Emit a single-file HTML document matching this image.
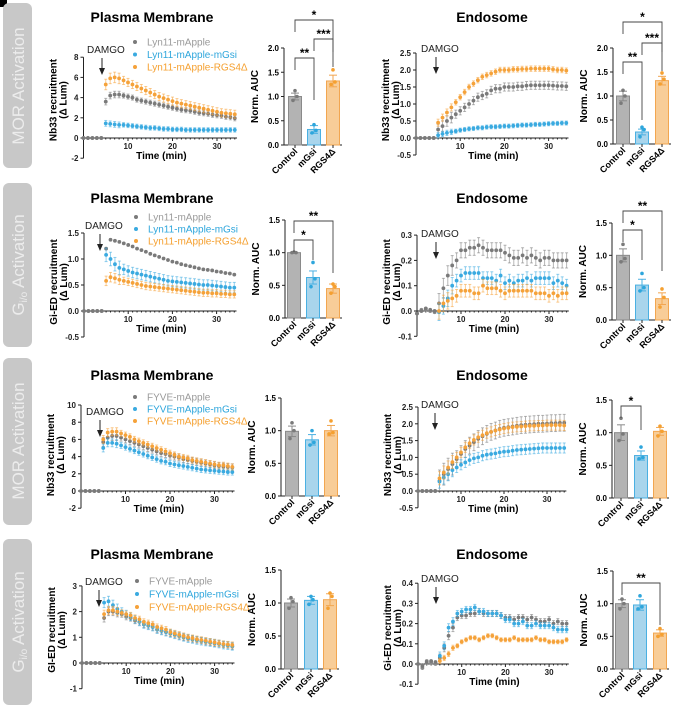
<!DOCTYPE html>
<html><head><meta charset="utf-8"><style>
html,body{margin:0;padding:0;background:#fff;}
svg{display:block;font-family:"Liberation Sans",Arial,sans-serif;}
</style></head><body>
<svg id="fig" width="677" height="706" viewBox="0 0 677 706">
<rect x="0" y="0" width="7" height="7" fill="#000"/>
<g><rect x="3" y="3" width="29" height="165" rx="6" fill="#c8c8c8"/><text transform="translate(24,86) rotate(-90)" text-anchor="middle" font-size="17" fill="#ececec">MOR Activation</text></g>
<g><rect x="3" y="183" width="29" height="164" rx="6" fill="#c8c8c8"/><text transform="translate(24,265) rotate(-90)" text-anchor="middle" font-size="17" fill="#ececec">G<tspan font-size="10" dy="3">i/o</tspan><tspan dy="-3"> Activation</tspan></text></g>
<g><rect x="3" y="358" width="29" height="167" rx="6" fill="#c8c8c8"/><text transform="translate(24,441) rotate(-90)" text-anchor="middle" font-size="17" fill="#ececec">MOR Activation</text></g>
<g><rect x="3" y="539" width="29" height="166" rx="6" fill="#c8c8c8"/><text transform="translate(24,622) rotate(-90)" text-anchor="middle" font-size="17" fill="#ececec">G<tspan font-size="10" dy="3">i/o</tspan><tspan dy="-3"> Activation</tspan></text></g>
</svg>
<script>
const times=[0,1,2,3,4,5,6,7,8,9,10,11,12,13,14,15,16,17,18,19,20,21,22,23,24,25,26,27,28,29,30,31,32,33,34];
const Z5=[0,0,0,0,0];
const P1_grey=Z5.concat([3.6,4.2,4.3,4.3,4.2,4.1,4.0,3.8,3.7,3.6,3.5,3.4,3.3,3.2,3.1,3.0,2.9,2.8,2.75,2.7,2.6,2.5,2.45,2.4,2.3,2.25,2.2,2.1,2.05,1.95]);
const P1_blue=Z5.concat([1.45,1.4,1.35,1.3,1.3,1.25,1.2,1.15,1.1,1.05,1.0,1.0,0.95,0.9,0.9,0.85,0.85,0.85,0.8,0.8,0.8,0.8,0.8,0.8,0.8,0.8,0.8,0.8,0.8,0.8]);
const P1_orange=Z5.concat([5.3,5.9,6.0,5.9,5.7,5.5,5.3,5.1,4.9,4.7,4.5,4.3,4.1,3.95,3.8,3.65,3.5,3.4,3.3,3.2,3.1,3.0,2.9,2.8,2.7,2.6,2.5,2.45,2.4,2.35]);
const P2_grey=Z5.concat([1.2,1.37,1.35,1.33,1.3,1.27,1.24,1.2,1.17,1.14,1.1,1.07,1.04,1.01,0.98,0.95,0.93,0.9,0.88,0.86,0.84,0.82,0.8,0.79,0.78,0.76,0.75,0.73,0.72,0.7]);
const P2_blue=Z5.concat([1.08,1.0,0.9,0.83,0.8,0.77,0.74,0.72,0.7,0.68,0.66,0.64,0.62,0.6,0.58,0.57,0.56,0.55,0.54,0.53,0.52,0.51,0.5,0.5,0.49,0.48,0.47,0.46,0.45,0.45]);
const P2_orange=Z5.concat([0.58,0.65,0.63,0.6,0.58,0.56,0.54,0.52,0.5,0.48,0.47,0.46,0.45,0.44,0.43,0.42,0.41,0.4,0.39,0.38,0.37,0.36,0.35,0.35,0.34,0.34,0.33,0.33,0.32,0.32]);
const P3_grey=Z5.concat([5.7,6.2,6.4,6.4,6.2,6.0,5.8,5.6,5.4,5.2,5.0,4.8,4.6,4.4,4.3,4.1,4.0,3.9,3.7,3.6,3.5,3.4,3.3,3.2,3.1,3.0,2.9,2.85,2.8,2.75]);
const P3_blue=Z5.concat([5.0,5.6,5.6,5.5,5.3,5.1,4.9,4.7,4.5,4.3,4.1,3.9,3.7,3.5,3.4,3.2,3.1,3.0,2.9,2.8,2.7,2.6,2.5,2.45,2.4,2.35,2.3,2.25,2.2,2.2]);
const P3_orange=Z5.concat([6.0,6.8,6.9,6.9,6.7,6.5,6.3,6.0,5.8,5.6,5.4,5.2,5.0,4.8,4.6,4.4,4.2,4.0,3.9,3.8,3.6,3.5,3.4,3.3,3.2,3.1,3.0,3.0,2.9,2.8]);
const P4_grey=Z5.concat([1.75,2.0,2.0,1.95,1.9,1.8,1.75,1.65,1.6,1.5,1.45,1.4,1.3,1.25,1.2,1.15,1.1,1.05,1.0,0.97,0.93,0.9,0.87,0.83,0.8,0.77,0.75,0.72,0.7,0.65]);
const P4_blue=Z5.concat([2.35,2.4,2.25,2.1,2.0,1.9,1.8,1.7,1.6,1.5,1.45,1.4,1.3,1.25,1.2,1.15,1.1,1.05,1.0,0.95,0.92,0.88,0.85,0.82,0.8,0.77,0.74,0.7,0.68,0.65]);
const P4_orange=Z5.concat([1.9,2.05,2.05,2.0,1.95,1.9,1.85,1.75,1.7,1.6,1.55,1.5,1.4,1.35,1.3,1.2,1.15,1.1,1.05,1.0,0.97,0.93,0.9,0.87,0.83,0.8,0.77,0.74,0.72,0.7]);
const E1_grey=Z5.concat([0.25,0.35,0.5,0.6,0.7,0.8,0.9,1.0,1.1,1.2,1.25,1.3,1.4,1.45,1.45,1.5,1.5,1.5,1.52,1.52,1.54,1.55,1.55,1.55,1.55,1.55,1.54,1.53,1.53,1.52]);
const E1_blue=Z5.concat([0.08,0.12,0.15,0.18,0.2,0.23,0.25,0.27,0.28,0.3,0.3,0.32,0.33,0.33,0.34,0.35,0.35,0.36,0.37,0.38,0.38,0.39,0.4,0.4,0.41,0.42,0.43,0.43,0.44,0.44]);
const E1_orange=Z5.concat([0.45,0.6,0.75,0.9,1.05,1.2,1.35,1.5,1.6,1.7,1.8,1.85,1.9,1.95,2.0,2.0,2.0,2.02,2.02,2.03,2.03,2.04,2.04,2.04,2.04,2.04,2.02,2.0,2.0,1.98]);
const E2_grey=[-0.01,0,0.01,0.005,0].concat([0.03,0.09,0.14,0.18,0.2,0.24,0.24,0.25,0.25,0.26,0.25,0.24,0.24,0.24,0.24,0.23,0.22,0.21,0.21,0.22,0.21,0.22,0.21,0.2,0.21,0.21,0.2,0.2,0.2,0.2]);
const E2_blue=[-0.01,0.005,0.01,0,0].concat([-0.005,0.02,0.05,0.1,0.12,0.14,0.15,0.15,0.15,0.15,0.13,0.13,0.13,0.12,0.14,0.11,0.12,0.11,0.12,0.12,0.13,0.12,0.13,0.13,0.13,0.13,0.11,0.12,0.11,0.1]);
const E2_orange=[-0.01,0,0.005,0,-0.005].concat([0.0,0.03,0.04,0.05,0.06,0.08,0.08,0.08,0.07,0.07,0.1,0.09,0.09,0.09,0.08,0.07,0.08,0.08,0.08,0.08,0.08,0.08,0.07,0.07,0.07,0.06,0.07,0.06,0.07,0.07]);
const E3_grey=Z5.concat([0.3,0.5,0.65,0.8,0.95,1.1,1.25,1.35,1.45,1.55,1.63,1.7,1.76,1.8,1.85,1.88,1.9,1.92,1.94,1.96,1.97,1.98,1.99,2.0,2.0,2.01,2.02,2.02,2.03,2.03]);
const E3_blue=Z5.concat([0.28,0.4,0.5,0.62,0.7,0.78,0.85,0.92,0.97,1.0,1.05,1.08,1.1,1.12,1.15,1.17,1.18,1.2,1.22,1.23,1.24,1.25,1.26,1.27,1.28,1.28,1.28,1.28,1.28,1.28]);
const E3_orange=Z5.concat([0.38,0.55,0.7,0.86,1.0,1.15,1.3,1.42,1.52,1.6,1.66,1.72,1.76,1.8,1.83,1.86,1.88,1.9,1.91,1.92,1.93,1.94,1.94,1.95,1.95,1.96,1.96,1.96,1.96,1.95]);
const E4_grey=[0,-0.01,0.01,0.015,0.01].concat([0.03,0.08,0.14,0.18,0.23,0.24,0.24,0.25,0.25,0.26,0.25,0.25,0.25,0.25,0.24,0.23,0.23,0.22,0.23,0.23,0.22,0.23,0.22,0.21,0.21,0.22,0.2,0.21,0.2,0.2]);
const E4_blue=[0,-0.005,0.015,0.01,0.005].concat([0.04,0.09,0.18,0.21,0.25,0.26,0.27,0.27,0.28,0.26,0.26,0.25,0.25,0.25,0.24,0.22,0.22,0.2,0.2,0.21,0.19,0.19,0.2,0.19,0.19,0.19,0.18,0.17,0.17,0.17]);
const E4_orange=[0,-0.02,0.005,0.005,0].concat([0.015,0.03,0.05,0.08,0.09,0.11,0.12,0.13,0.13,0.12,0.13,0.14,0.14,0.13,0.12,0.12,0.12,0.13,0.12,0.12,0.12,0.12,0.13,0.12,0.12,0.11,0.11,0.11,0.11,0.12]);
const barCategories=["Control","mGsi","RGS4\u0394"];
const B1L_means=[1.0,0.32,1.32],B1L_sem=[0.07,0.08,0.12],B1L_pts=[[0.92,1.0,1.12],[0.25,0.3,0.42],[1.25,1.3,1.55]];
const B1R_means=[1.0,0.25,1.32],B1R_sem=[0.1,0.06,0.09],B1R_pts=[[0.85,1.0,1.12],[0.15,0.3,0.35],[1.25,1.35,1.48]];
const B2L_means=[1.0,0.62,0.45],B2L_sem=[0.005,0.1,0.07],B2L_pts=[[1.0,1.0,1.01],[0.48,0.6,0.85],[0.38,0.48,0.52]];
const B2R_means=[1.0,0.54,0.33],B2R_sem=[0.1,0.09,0.09],B2R_pts=[[0.9,0.95,1.17],[0.45,0.5,0.72],[0.2,0.35,0.48]];
const B3L_means=[0.99,0.86,1.0],B3L_sem=[0.08,0.08,0.08],B3L_pts=[[0.88,1.0,1.12],[0.78,0.82,1.0],[0.95,0.97,1.15]];
const B3R_means=[1.0,0.65,1.02],B3R_sem=[0.12,0.07,0.06],B3R_pts=[[0.88,0.98,1.22],[0.6,0.62,0.78],[0.95,1.02,1.1]];
const B4L_means=[1.0,1.04,1.05],B4L_sem=[0.06,0.06,0.09],B4L_pts=[[0.92,1.02,1.08],[0.98,1.05,1.1],[0.92,1.1,1.15]];
const B4R_means=[1.0,0.98,0.55],B4R_sem=[0.06,0.08,0.05],B4R_pts=[[0.92,1.0,1.07],[0.92,0.95,1.12],[0.5,0.53,0.62]];
const ticksP1=[-2,0,2,4,6,8],ticksP2=[-0.5,0,0.5,1,1.5],ticksP3=[-2,0,2,4,6,8,10],ticksP4=[-1,0,1,2,3];
const ticksE1=[-0.5,0,0.5,1,1.5,2,2.5],ticksE2=[-0.1,0,0.1,0.2,0.3],ticksE4=[-0.1,0,0.1,0.2,0.3,0.4];
const xTicks=[10,20,30];

const NS="http://www.w3.org/2000/svg",svg=document.getElementById('fig');
const COL={grey:'#7a7a7a',blue:'#3aaae0',orange:'#f5a23a'};
const LEG={grey:'#9a9a9a',blue:'#2ea6dc',orange:'#f5a030'};
function mk(tag,attrs,parent,txt){const e=document.createElementNS(NS,tag);for(const k in attrs)e.setAttribute(k,attrs[k]);if(txt!==undefined)e.textContent=txt;(parent||svg).appendChild(e);return e;}
function fmt(v,d){return v<0?'-'+Math.abs(v).toFixed(d):v.toFixed(d);}

function linePanel(c){
  const g=mk('g',{});
  
  
  const X=t=>c.x0+c.sx*t, Y=v=>c.y0-c.sy*v;
  mk('line',{x1:c.x0,x2:c.x0,y1:Y(c.ticks[0]),y2:Y(c.ticks[c.ticks.length-1]),stroke:'#222','stroke-width':1},g);
  c.ticks.forEach(v=>{mk('line',{x1:c.x0-3,x2:c.x0,y1:Y(v),y2:Y(v),stroke:'#222'},g);
    const t=mk('text',{x:c.x0-5,y:Y(v)+3,'text-anchor':'end','font-size':8,'font-weight':'bold',fill:'#222'},g,fmt(v,c.dec));
    });
  mk('line',{x1:c.x0,x2:X(34.5),y1:c.y0,y2:c.y0,stroke:'#222'},g);
  for(let t=1;t<=34;t++)mk('line',{x1:X(t),x2:X(t),y1:c.y0,y2:c.y0+(t%10?1.5:3),stroke:'#222'},g);
  xTicks.forEach(t=>{const e=mk('text',{x:X(t),y:c.y0+11,'text-anchor':'middle','font-size':8,'font-weight':'bold',fill:'#222'},g,String(t));
    });
  const xl=mk('text',{x:X(17.5),y:c.y0+21,'text-anchor':'middle','font-size':10,'font-weight':'bold'},g,'Time (min)');
  
  const yl=mk('text',{transform:`translate(${c.x0-27},${c.ylc}) rotate(-90)`,'text-anchor':'middle','font-size':10,'font-weight':'bold'},g);
  
  mk('tspan',{x:0,y:0},yl,c.ylab);mk('tspan',{x:0,y:10},yl,'(\u0394 Lum)');
  const dm=mk('text',{x:c.dx,y:c.dy,'font-size':10,fill:'#222'},g,'DAMGO');
  
  mk('line',{x1:c.ax,x2:c.ax,y1:c.dy+5,y2:c.dy+16,stroke:'#222','stroke-width':1},g);
  mk('path',{d:`M${c.ax-3},${c.dy+15} L${c.ax+3},${c.dy+15} L${c.ax},${c.dy+22} Z`,fill:'#222'},g);
  c.series.forEach(s=>{
    const sg=mk('g',{},g);
    
    s.v.forEach((v,i)=>{const t=times[i];
      if(t<5)return;
      const e=s.e*(t<9?1.3:1);mk('line',{x1:X(t),x2:X(t),y1:Y(v-e),y2:Y(v+e),stroke:COL[s.k],'stroke-opacity':0.55,'stroke-width':1},sg);
      mk('line',{x1:X(t)-1.5,x2:X(t)+1.5,y1:Y(v+e),y2:Y(v+e),stroke:COL[s.k],'stroke-opacity':0.55},sg);
      mk('line',{x1:X(t)-1.5,x2:X(t)+1.5,y1:Y(v-e),y2:Y(v-e),stroke:COL[s.k],'stroke-opacity':0.55},sg);
      const p=mk('circle',{cx:X(t),cy:Y(v),r:1.9,fill:COL[s.k]},sg);
      });
  });
  const pg=mk('g',{},g);
  
  ['orange','blue','grey'].forEach(k=>{const s=c.series.find(q=>q.k===k);
    s.v.forEach((v,i)=>{if(times[i]<5)mk('circle',{cx:X(times[i]),cy:Y(v),r:1.9,fill:k==='grey'?COL.grey:'#8a8a8a'},pg);});});
  if(c.leg){c.leg.forEach((L,i)=>{const yy=c.ly+i*c.lg;
    mk('circle',{cx:c.lx,cy:yy,r:2,fill:COL[L[0]]},g);
    const t=mk('text',{x:c.lx+12,y:yy+3.5,'font-size':10,fill:LEG[L[0]]},g,L[1]);
    });}
}
function barPanel(c){
  const g=mk('g',{});
  
  
  const Y=v=>c.y0-(c.y0-c.ytop)*v/c.ymax;
  mk('line',{x1:c.ax,x2:c.ax,y1:c.y0,y2:c.ytop,stroke:'#222'},g);
  c.ticks.forEach(v=>{mk('line',{x1:c.ax-3,x2:c.ax,y1:Y(v),y2:Y(v),stroke:'#222'},g);
    const t=mk('text',{x:c.ax-5,y:Y(v)+3,'text-anchor':'end','font-size':8,'font-weight':'bold'},g,v.toFixed(1));
    });
  mk('line',{x1:c.ax,x2:c.cx[2]+9,y1:c.y0,y2:c.y0,stroke:'#222'},g);
  const yl=mk('text',{transform:`translate(${c.ax-26},${(c.y0+c.ytop)/2}) rotate(-90)`,'text-anchor':'middle','font-size':10,'font-weight':'bold'},g,'Norm. AUC');
  
  const fills=['#b3b3b3','#a9d5ec','#f8cd98'],strokes=['#8a8a8a','#4ab0e2','#f2a650'],dots=['#7a7a7a','#2ea6dc','#f5a030'];
  c.means.forEach((m,i)=>{const x=c.cx[i];
    const b=mk('rect',{x:x-6.5,y:Y(m),width:13,height:c.y0-Y(m),fill:fills[i],stroke:strokes[i],'stroke-width':1},g);
    
    const s=c.sem[i];
    mk('line',{x1:x,x2:x,y1:Y(m-s),y2:Y(m+s),stroke:strokes[i]},g);
    mk('line',{x1:x-4,x2:x+4,y1:Y(m+s),y2:Y(m+s),stroke:strokes[i]},g);
    mk('line',{x1:x-4,x2:x+4,y1:Y(m-s),y2:Y(m-s),stroke:strokes[i]},g);
    c.pts[i].forEach((p,j)=>mk('circle',{cx:x+[-2,2,0][j],cy:Y(p),r:1.8,fill:dots[i]},g));
    mk('line',{x1:x,x2:x,y1:c.y0,y2:c.y0+3,stroke:'#222'},g);
    const t=mk('text',{transform:`translate(${x+3},${c.y0+7}) rotate(-45)`,'text-anchor':'end','font-size':9,'font-weight':'bold'},g,barCategories[i]);
    });
  (c.br||[]).forEach(b=>{const x1=c.cx[b[0]],x2=c.cx[b[1]];
    const p=mk('path',{d:`M${x1},${b[2]+12} L${x1},${b[2]} L${x2},${b[2]} L${x2},${b[2]+b[4]}`,fill:'none',stroke:'#444','stroke-width':0.9},g);
    
    mk('text',{x:(x1+x2)/2,y:b[2]-1,'text-anchor':'middle','font-size':12,'font-weight':'bold'},g,b[3]);});
}
function title(x,y,s,n){const t=mk('text',{x:x,y:y+5,'text-anchor':'middle','font-size':14,'font-weight':'bold'},svg,s);
  }
[[17,1],[198,2],[375,3],[554,4]].forEach(r=>{title(152,r[0],'Plasma Membrane','pm-title-'+r[1]);title(492,r[0],'Endosome','endo-title-'+r[1]);});

const lynLeg=[['grey','Lyn11-mApple'],['blue','Lyn11-mApple-mGsi'],['orange','Lyn11-mApple-RGS4\u0394']];
const fyLeg=[['grey','FYVE-mApple'],['blue','FYVE-mApple-mGsi'],['orange','FYVE-mApple-RGS4\u0394']];
const S=(g,b,o,eg,eb,eo)=>[{k:'grey',v:g,e:eg},{k:'blue',v:b,e:eb},{k:'orange',v:o,e:eo}];
linePanel({name:'pm-mor-lyn-chart',x0:83.5,sx:4.45,y0:138,sy:10.1,ticks:ticksP1,dec:0,ylab:'Nb33 recruitment',ylc:100,dx:87,dy:53,ax:102,leg:lynLeg,lx:135,ly:42,lg:12.5,series:S(P1_grey,P1_blue,P1_orange,0.25,0.22,0.4)});
linePanel({name:'pm-gi-lyn-chart',x0:84,sx:4.42,y0:311,sy:52,ticks:ticksP2,dec:1,ylab:'Gi-ED recruitment',ylc:282,dx:85,dy:229,ax:100,leg:lynLeg,lx:136,ly:217,lg:12,series:S(P2_grey,P2_blue,P2_orange,0.015,0.1,0.07)});
linePanel({name:'pm-mor-fyve-chart',x0:81,sx:4.45,y0:491,sy:8.6,ticks:ticksP3,dec:0,ylab:'Nb33 recruitment',ylc:455,dx:86,dy:415,ax:100,leg:fyLeg,lx:135,ly:397,lg:12,series:S(P3_grey,P3_blue,P3_orange,0.4,0.35,0.35)});
linePanel({name:'pm-gi-fyve-chart',x0:82,sx:4.42,y0:663,sy:25.7,ticks:ticksP4,dec:0,ylab:'GI-ED recruitment',ylc:630,dx:85,dy:585,ax:99,leg:fyLeg,lx:137,ly:581,lg:13,series:S(P4_grey,P4_blue,P4_orange,0.12,0.15,0.12)});
linePanel({name:'endo-mor-lyn-chart',x0:416,sx:4.42,y0:138,sy:34,ticks:ticksE1,dec:1,ylab:'Nb33 recruitment',ylc:100,dx:421,dy:52,ax:436,series:S(E1_grey,E1_blue,E1_orange,0.12,0.06,0.08)});
linePanel({name:'endo-gi-lyn-chart',x0:417,sx:4.4,y0:311,sy:253,ticks:ticksE2,dec:1,ylab:'Gi-ED recruitment',ylc:282,dx:421,dy:237,ax:436,series:S(E2_grey,E2_blue,E2_orange,0.03,0.025,0.025)});
linePanel({name:'endo-mor-fyve-chart',x0:418,sx:4.3,y0:491,sy:33.6,ticks:ticksE1,dec:1,ylab:'Nb33 recruitment',ylc:455,dx:421,dy:408,ax:435,series:S(E3_grey,E3_blue,E3_orange,0.25,0.15,0.15)});
linePanel({name:'endo-gi-fyve-chart',x0:418,sx:4.37,y0:664,sy:202,ticks:ticksE4,dec:1,ylab:'Gi-ED recruitment',ylc:628,dx:421,dy:582,ax:436,series:S(E4_grey,E4_blue,E4_orange,0.015,0.015,0.01)});

barPanel({name:'pm-mor-lyn-auc',ax:284,cx:[295,314,333],y0:145,ytop:48,ymax:2,ticks:[0,0.5,1,1.5,2],means:B1L_means,sem:B1L_sem,pts:B1L_pts,br:[[0,2,20,'*',32],[1,2,39,'***',28],[0,1,58,'**',42]]});
barPanel({name:'endo-mor-lyn-auc',ax:613,cx:[623,642,662],y0:144,ytop:48,ymax:2,ticks:[0,0.5,1,1.5,2],means:B1R_means,sem:B1R_sem,pts:B1R_pts,br:[[0,2,22,'*',30],[1,2,43,'***',28],[0,1,62,'**',58]]});
barPanel({name:'pm-gi-lyn-auc',ax:285,cx:[294,313,333],y0:318,ytop:220,ymax:1.5,ticks:[0,0.5,1,1.5],means:B2L_means,sem:B2L_sem,pts:B2L_pts,br:[[0,2,221,'**',52],[0,1,240,'*',20]]});
barPanel({name:'endo-gi-lyn-auc',ax:612,cx:[623,642,662],y0:320,ytop:223,ymax:1.5,ticks:[0,0.5,1,1.5],means:B2R_means,sem:B2R_sem,pts:B2R_pts,br:[[0,2,211,'**',60],[0,1,230,'*',30]]});
barPanel({name:'pm-mor-fyve-auc',ax:281,cx:[292,312,331],y0:496,ytop:398,ymax:1.5,ticks:[0,0.5,1,1.5],means:B3L_means,sem:B3L_sem,pts:B3L_pts});
barPanel({name:'endo-mor-fyve-auc',ax:612,cx:[621,641,660],y0:498,ytop:400,ymax:1.5,ticks:[0,0.5,1,1.5],means:B3R_means,sem:B3R_sem,pts:B3R_pts,br:[[0,1,406,'*',24]]});
barPanel({name:'pm-gi-fyve-auc',ax:281,cx:[291,311,330],y0:669,ytop:570,ymax:1.5,ticks:[0,0.5,1,1.5],means:B4L_means,sem:B4L_sem,pts:B4L_pts});
barPanel({name:'endo-gi-fyve-auc',ax:613,cx:[622,640,660],y0:669,ytop:571,ymax:1.5,ticks:[0,0.5,1,1.5],means:B4R_means,sem:B4R_sem,pts:B4R_pts,br:[[0,2,583,'**',42]]});
</script>
</body></html>
